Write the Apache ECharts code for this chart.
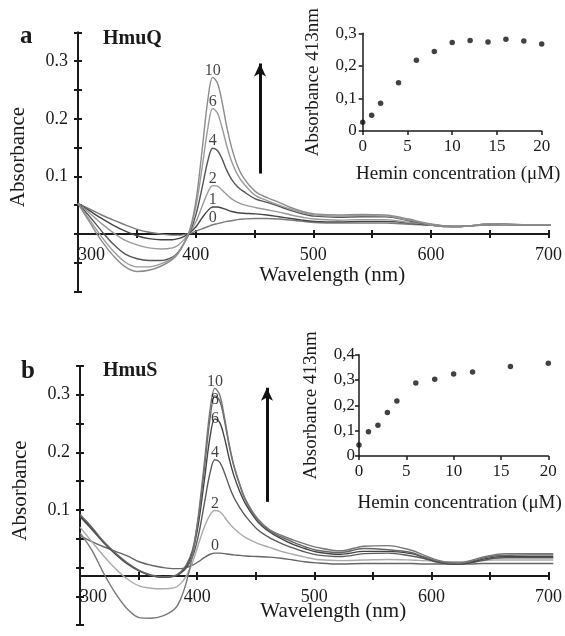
<!DOCTYPE html>
<html>
<head>
<meta charset="utf-8">
<script src="https://cdn.jsdelivr.net/npm/echarts@6/dist/echarts.min.js"></script>
<style>
  html, body { margin: 0; padding: 0; background: #fff; }
  #chart { width: 565px; height: 636px; }
</style>
</head>
<body>
<div id="chart"></div>
<script>
// Wavelength grid (nm) shared by every difference spectrum
const wavelengths = [300, 310, 320, 330, 340, 350, 360, 370, 380, 385, 390, 395, 400, 405, 410, 414, 418, 422, 426, 430, 435, 440, 450, 460, 470, 480, 490, 500, 520, 540, 560, 580, 590, 600, 610, 620, 630, 640, 650, 660, 680, 700];

// HmuQ difference spectra, one per hemin concentration (µM)
const hmuQ0  = [0.053, 0.043, 0.033, 0.024, 0.016, 0.008, 0.003, 0.000, -0.002, -0.002, -0.001, 0.001, 0.005, 0.009, 0.013, 0.016, 0.018, 0.020, 0.022, 0.023, 0.025, 0.026, 0.027, 0.027, 0.026, 0.024, 0.022, 0.020, 0.019, 0.019, 0.019, 0.017, 0.016, 0.015, 0.013, 0.013, 0.014, 0.015, 0.016, 0.016, 0.016, 0.016];
const hmuQ1  = [0.053, 0.040, 0.027, 0.015, 0.005, -0.003, -0.008, -0.010, -0.010, -0.008, -0.004, 0.003, 0.013, 0.028, 0.041, 0.047, 0.047, 0.045, 0.042, 0.039, 0.037, 0.036, 0.035, 0.033, 0.030, 0.027, 0.024, 0.022, 0.021, 0.022, 0.022, 0.019, 0.017, 0.015, 0.013, 0.013, 0.014, 0.015, 0.016, 0.016, 0.016, 0.016];
const hmuQ2  = [0.053, 0.036, 0.018, 0.002, -0.011, -0.019, -0.024, -0.026, -0.024, -0.019, -0.009, 0.004, 0.022, 0.048, 0.073, 0.084, 0.083, 0.076, 0.068, 0.061, 0.055, 0.051, 0.046, 0.042, 0.038, 0.033, 0.029, 0.026, 0.024, 0.025, 0.025, 0.020, 0.018, 0.015, 0.013, 0.013, 0.014, 0.015, 0.016, 0.016, 0.016, 0.016];
const hmuQ4  = [0.053, 0.030, 0.005, -0.018, -0.035, -0.043, -0.046, -0.046, -0.040, -0.031, -0.015, 0.005, 0.035, 0.080, 0.128, 0.149, 0.145, 0.130, 0.110, 0.095, 0.082, 0.074, 0.061, 0.055, 0.048, 0.041, 0.035, 0.031, 0.029, 0.030, 0.030, 0.023, 0.019, 0.016, 0.014, 0.013, 0.014, 0.016, 0.018, 0.017, 0.016, 0.016];
const hmuQ6  = [0.053, 0.024, -0.005, -0.030, -0.049, -0.057, -0.057, -0.052, -0.042, -0.032, -0.015, 0.008, 0.050, 0.115, 0.185, 0.218, 0.210, 0.184, 0.152, 0.126, 0.103, 0.088, 0.067, 0.058, 0.050, 0.043, 0.037, 0.033, 0.031, 0.032, 0.031, 0.024, 0.020, 0.016, 0.014, 0.013, 0.014, 0.016, 0.018, 0.017, 0.016, 0.016];
const hmuQ10 = [0.053, 0.020, -0.012, -0.038, -0.057, -0.065, -0.063, -0.056, -0.044, -0.033, -0.015, 0.010, 0.060, 0.145, 0.235, 0.272, 0.262, 0.228, 0.185, 0.150, 0.118, 0.098, 0.074, 0.063, 0.055, 0.046, 0.039, 0.035, 0.033, 0.034, 0.033, 0.026, 0.021, 0.017, 0.014, 0.013, 0.014, 0.016, 0.018, 0.018, 0.016, 0.016];
const hmuQLevels = ['0', '1', '2', '4', '6', '10'];

// HmuS difference spectra
const hmuS0  = [0.055, 0.045, 0.036, 0.028, 0.020, 0.010, 0.004, 0.000, -0.002, -0.002, 0.000, 0.004, 0.010, 0.017, 0.023, 0.025, 0.025, 0.024, 0.023, 0.022, 0.021, 0.020, 0.019, 0.018, 0.016, 0.013, 0.010, 0.008, 0.006, 0.007, 0.007, 0.007, 0.006, 0.006, 0.006, 0.006, 0.006, 0.007, 0.007, 0.007, 0.007, 0.007];
const hmuS2  = [0.070, 0.045, 0.020, -0.002, -0.020, -0.032, -0.036, -0.037, -0.035, -0.028, -0.014, 0.008, 0.040, 0.070, 0.092, 0.099, 0.097, 0.088, 0.077, 0.068, 0.059, 0.052, 0.042, 0.035, 0.028, 0.023, 0.018, 0.014, 0.012, 0.013, 0.014, 0.013, 0.012, 0.011, 0.010, 0.010, 0.011, 0.012, 0.013, 0.013, 0.013, 0.013];
const hmuS4  = [0.088, 0.066, 0.043, 0.023, 0.006, -0.006, -0.014, -0.017, -0.015, -0.010, 0.000, 0.018, 0.055, 0.110, 0.165, 0.187, 0.183, 0.165, 0.142, 0.122, 0.104, 0.089, 0.066, 0.052, 0.042, 0.034, 0.027, 0.022, 0.019, 0.024, 0.025, 0.020, 0.016, 0.010, 0.007, 0.006, 0.008, 0.012, 0.016, 0.017, 0.017, 0.017];
const hmuS6  = [0.090, 0.068, 0.044, 0.024, 0.007, -0.006, -0.014, -0.017, -0.015, -0.009, 0.003, 0.026, 0.075, 0.150, 0.228, 0.258, 0.252, 0.226, 0.190, 0.160, 0.132, 0.110, 0.080, 0.062, 0.050, 0.040, 0.033, 0.027, 0.023, 0.028, 0.028, 0.024, 0.018, 0.011, 0.007, 0.006, 0.009, 0.014, 0.018, 0.019, 0.019, 0.019];
const hmuS8  = [0.092, 0.070, 0.045, 0.025, 0.008, -0.005, -0.013, -0.016, -0.014, -0.008, 0.005, 0.030, 0.085, 0.170, 0.260, 0.298, 0.290, 0.256, 0.212, 0.176, 0.143, 0.116, 0.082, 0.064, 0.053, 0.044, 0.036, 0.030, 0.026, 0.033, 0.031, 0.026, 0.019, 0.012, 0.008, 0.007, 0.010, 0.016, 0.020, 0.021, 0.022, 0.022];
const hmuS10 = [0.060, 0.030, -0.010, -0.045, -0.072, -0.087, -0.088, -0.084, -0.072, -0.055, -0.025, 0.020, 0.090, 0.180, 0.275, 0.311, 0.300, 0.262, 0.215, 0.178, 0.145, 0.118, 0.085, 0.066, 0.056, 0.048, 0.041, 0.035, 0.029, 0.037, 0.038, 0.030, 0.022, 0.014, 0.009, 0.008, 0.012, 0.018, 0.022, 0.024, 0.024, 0.024];
const hmuSLevels = ['0', '2', '4', '6', '8', '10'];

// Titration: absorbance at 413 nm vs hemin concentration
const heminQ  = [0, 1, 2, 4, 6, 8, 10, 12, 14, 16, 18, 20];
const abs413Q = [0.027, 0.048, 0.085, 0.148, 0.217, 0.244, 0.272, 0.278, 0.273, 0.282, 0.276, 0.267];
const heminS  = [0, 1, 2, 3, 4, 6, 8, 10, 12, 16, 20];
const abs413S = [0.043, 0.096, 0.121, 0.172, 0.217, 0.288, 0.303, 0.324, 0.332, 0.353, 0.366];

const FONT = '"Liberation Serif", "Times New Roman", serif';
const INK = '#1a1a1a';
const SORET = 414;
const soretIdx = wavelengths.indexOf(SORET);

const pairs = (xs, ys) => xs.map((x, i) => [x, ys[i]]);

function mainYLabel(v) {
  const r = Math.round(v * 100);
  return (r === 10 || r === 20 || r === 30) ? (r / 100).toFixed(1) : '';
}
function commaLabel(v) {
  const r = Math.round(v * 10);
  return r === 0 ? '0' : '0,' + r;
}
function wlLabel(v) {
  return v % 100 === 0 ? String(v) : '';
}

const lineStyle = { color: INK, width: 2 };
const tickOut = { show: true, length: 4, lineStyle: lineStyle };
const tickIn = { show: true, inside: true, length: 4, lineStyle: lineStyle };

// Spectral axes. The visible wavelength axis sits in its own grid whose
// bottom edge is the baseline, so ticks and labels hang from that line.
function hiddenWavelengthX(gridIndex) {
  return { type: 'value', gridIndex, min: 300, max: 700, show: false };
}
function wavelengthX(gridIndex, withLabels, nameGap) {
  return {
    type: 'value', gridIndex, min: 300, max: 700, interval: 50, position: 'bottom',
    axisLine: { show: true, onZero: false, lineStyle: lineStyle },
    axisTick: withLabels ? tickOut : tickIn,
    splitLine: { show: false },
    axisLabel: withLabels ? {
      show: true, formatter: wlLabel, fontFamily: FONT, fontSize: 18, color: INK,
      margin: 12, alignMinLabel: 'left'
    } : { show: false },
    name: withLabels ? 'Wavelength (nm)' : '',
    nameLocation: 'middle', nameGap: nameGap, nameMoveOverlap: false,
    nameTextStyle: { fontFamily: FONT, fontSize: 21, color: INK, padding: [0, 0, 0, 38] }
  };
}
function absorbanceY(gridIndex, withLabels) {
  return {
    type: 'value', gridIndex, min: -0.1, max: 0.35, interval: 0.05, position: 'left',
    axisLine: { show: true, onZero: false, lineStyle: lineStyle },
    axisTick: withLabels ? tickOut : tickIn,
    splitLine: { show: false },
    axisLabel: withLabels ? {
      show: true, formatter: mainYLabel, fontFamily: FONT, fontSize: 18, color: INK, margin: 10
    } : { show: false },
    name: withLabels ? 'Absorbance' : '',
    nameLocation: 'middle', nameGap: 49, nameMoveOverlap: false,
    nameTextStyle: { fontFamily: FONT, fontSize: 21, color: INK, padding: [0, 0, 0, 10] }
  };
}
function hiddenY(gridIndex) {
  return { type: 'value', gridIndex, min: 0, max: 1, show: false };
}
function insetX(gridIndex, nameGap) {
  return {
    type: 'value', gridIndex, min: 0, max: 20, interval: 5, position: 'bottom',
    axisLine: { show: true, onZero: false, lineStyle: { color: INK, width: 1.5 } },
    axisTick: { show: true, length: 4, lineStyle: { color: INK, width: 1.5 } },
    splitLine: { show: false },
    axisLabel: { fontFamily: FONT, fontSize: 17, color: INK, margin: 7 },
    name: 'Hemin concentration (\u03bcM)', nameLocation: 'middle', nameGap: nameGap, nameMoveOverlap: false,
    nameTextStyle: { fontFamily: FONT, fontSize: 19, color: INK, padding: [0, 0, 0, 12] }
  };
}
function insetY(gridIndex, max, margin, nameGap) {
  return {
    type: 'value', gridIndex, min: 0, max: max, interval: 0.1, position: 'left',
    axisLine: { show: true, onZero: false, lineStyle: { color: INK, width: 1.5 } },
    axisTick: { show: true, length: 4, lineStyle: { color: INK, width: 1.5 } },
    splitLine: { show: false },
    axisLabel: { formatter: commaLabel, fontFamily: FONT, fontSize: 17, color: INK, margin: margin },
    name: 'Absorbance 413nm', nameLocation: 'middle', nameGap: nameGap, nameMoveOverlap: false,
    nameTextStyle: { fontFamily: FONT, fontSize: 19, color: INK }
  };
}

function spectrumSeries(data, color, xi, yi) {
  return {
    type: 'line', xAxisIndex: xi, yAxisIndex: yi, data: pairs(wavelengths, data),
    smooth: 0.35, showSymbol: false, silent: true,
    lineStyle: { color: color, width: 1.4 }, z: 3
  };
}
// Concentration tags sit just above each curve's Soret maximum;
// `lift` holds extra pixel nudges where neighbouring tags would collide.
function levelLabels(curves, levels, xi, yi, lift) {
  return {
    type: 'scatter', xAxisIndex: xi, yAxisIndex: yi, symbolSize: 0, silent: true, z: 5,
    data: levels.map((lv, i) => ({
      name: lv,
      value: [SORET, curves[i][soretIdx]],
      label: { offset: [0, -7 + (lift[i] || 0)] }
    })),
    label: {
      show: true, formatter: '{b}', position: 'inside', fontFamily: FONT, fontSize: 16, color: '#111'
    }
  };
}
function arrowSeries(xi, yi, from, to) {
  return {
    type: 'line', xAxisIndex: xi, yAxisIndex: yi, data: [], silent: true,
    markLine: {
      silent: true, symbol: ['none', 'arrow'], symbolSize: [9, 13], animation: false,
      label: { show: false },
      lineStyle: { color: '#111', width: 3, type: 'solid' },
      data: [[{ coord: from }, { coord: to }]]
    }
  };
}
function titrationSeries(xs, ys, xi, yi) {
  return {
    type: 'scatter', xAxisIndex: xi, yAxisIndex: yi, data: pairs(xs, ys),
    symbol: 'circle', symbolSize: 5.5, itemStyle: { color: '#111' }, silent: true
  };
}

const qCurves = [hmuQ0, hmuQ1, hmuQ2, hmuQ4, hmuQ6, hmuQ10];
const qColors = ['#7a7a7a', '#444', '#999', '#555', '#9a9a9a', '#8c8c8c'];
const sCurves = [hmuS0, hmuS2, hmuS4, hmuS6, hmuS8, hmuS10];
const sColors = ['#666', '#aaa', '#5a5a5a', '#444', '#666', '#777'];

const option = {
  animation: false,
  backgroundColor: '#fff',
  grid: [
    { left: 78, top: 32.4, width: 472.7, height: 259.2 },    // 0 HmuQ spectra
    { left: 78, top: 32.4, width: 472.7, height: 201.6 },    // 1 HmuQ wavelength axis
    { left: 362.7, top: 33.3, width: 179, height: 97.7 },    // 2 HmuQ titration
    { left: 80, top: 365.9, width: 473.3, height: 259.2 },   // 3 HmuS spectra
    { left: 80, top: 365.9, width: 473.3, height: 210.1 },   // 4 HmuS wavelength axis
    { left: 359, top: 354.7, width: 189.3, height: 101.3 }   // 5 HmuS titration
  ],
  xAxis: [
    hiddenWavelengthX(0),        // 0
    wavelengthX(1, true, 31),    // 1
    wavelengthX(1, false, 0),    // 2
    insetX(2, 34),               // 3
    hiddenWavelengthX(3),        // 4
    wavelengthX(4, true, 25),    // 5
    wavelengthX(4, false, 0),    // 6
    insetX(5, 38)                // 7
  ],
  yAxis: [
    absorbanceY(0, true),        // 0
    absorbanceY(0, false),       // 1
    hiddenY(1),                  // 2
    insetY(2, 0.3, 6, 40),       // 3
    absorbanceY(3, true),        // 4
    absorbanceY(3, false),       // 5
    hiddenY(4),                  // 6
    insetY(5, 0.4, 4, 38)        // 7
  ],
  series: [
    ...qCurves.map((c, i) => spectrumSeries(c, qColors[i], 0, 0)),
    levelLabels(qCurves, hmuQLevels, 0, 0, {}),
    arrowSeries(0, 0, [454, 0.105], [454, 0.296]),
    titrationSeries(heminQ, abs413Q, 3, 3),
    ...sCurves.map((c, i) => spectrumSeries(c, sColors[i], 4, 4)),
    levelLabels(sCurves, hmuSLevels, 4, 4, { 3: 7, 4: 10.5 }),
    arrowSeries(4, 4, [458, 0.114], [458, 0.312]),
    titrationSeries(heminS, abs413S, 7, 7)
  ],
  graphic: [
    { type: 'text', left: 20, top: 24, style: { text: 'a', font: 'bold 25px ' + FONT, fill: INK } },
    { type: 'text', left: 103, top: 29, style: { text: 'HmuQ', font: 'bold 20px ' + FONT, fill: INK } },
    { type: 'text', left: 21, top: 359, style: { text: 'b', font: 'bold 25px ' + FONT, fill: INK } },
    { type: 'text', left: 103, top: 361, style: { text: 'HmuS', font: 'bold 20px ' + FONT, fill: INK } }
  ]
};

const chart = echarts.init(document.getElementById('chart'), null, { renderer: 'canvas' });
chart.setOption(option);
</script>
</body>
</html>
